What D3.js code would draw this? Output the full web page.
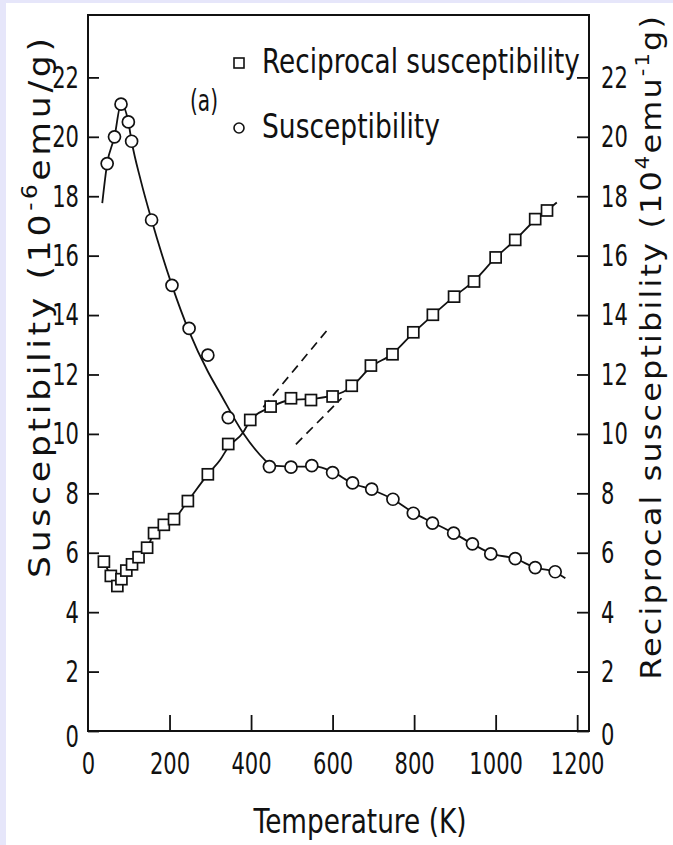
<!DOCTYPE html>
<html>
<head>
<meta charset="utf-8">
<script src="https://cdn.jsdelivr.net/npm/d3@7"></script>
<style>
  html, body { margin: 0; padding: 0; background: #e6e6fa; }
  svg { display: block; }
  text { font-family: "DejaVu Sans", sans-serif; fill: #111; }
</style>
</head>
<body>
<svg id="chart" width="673" height="845"></svg>
<script>
// Susceptibility (10^-6 emu/g), measured points
const tempChi = [47, 65, 81, 99, 107, 156, 206, 248, 294, 344, 445, 498, 549, 600, 649, 696, 748, 798, 845, 897, 943, 988, 1048, 1097, 1146];
const chi     = [19.1, 20.0, 21.1, 20.5, 19.85, 17.2, 15.0, 13.55, 12.65, 10.55, 8.9, 8.88, 8.93, 8.7, 8.35, 8.14, 7.8, 7.33, 7.0, 6.66, 6.3, 5.96, 5.8, 5.5, 5.36];

// Reciprocal susceptibility (10^4 emu^-1 g), measured points
const tempInv = [39, 56, 72, 82, 94, 108, 124, 145, 162, 186, 211, 245, 294, 344, 398, 448, 498, 547, 600, 647, 694, 747, 798, 846, 898, 947, 1000, 1048, 1097, 1126];
const invChi  = [5.7, 5.22, 4.88, 5.11, 5.4, 5.61, 5.85, 6.17, 6.66, 6.94, 7.13, 7.74, 8.64, 9.66, 10.47, 10.92, 11.2, 11.14, 11.26, 11.62, 12.3, 12.68, 13.42, 14.01, 14.62, 15.13, 15.94, 16.53, 17.23, 17.52];

// Smooth guide curves drawn through each series
const chiCurveT = [35, 47, 65, 81, 99, 107, 130, 156, 206, 248, 294, 324, 380, 434, 450, 520, 560, 600, 649, 696, 748, 798, 845, 897, 943, 988, 1048, 1097, 1146, 1171];
const chiCurveV = [17.77, 19.1, 20.0, 21.1, 20.5, 19.85, 18.5, 17.2, 15.0, 13.45, 12.1, 11.37, 10.04, 9.12, 8.93, 8.9, 8.9, 8.72, 8.34, 8.12, 7.8, 7.35, 7.02, 6.66, 6.3, 5.98, 5.8, 5.5, 5.35, 5.14];
const invCurveT = [39, 56, 72, 82, 94, 108, 124, 145, 162, 186, 211, 245, 294, 324, 344, 380, 398, 448, 498, 547, 600, 627, 647, 694, 747, 798, 846, 898, 947, 1000, 1048, 1097, 1126, 1150];
const invCurveV = [5.7, 5.22, 4.88, 5.11, 5.4, 5.61, 5.85, 6.17, 6.66, 6.94, 7.13, 7.74, 8.64, 9.12, 9.55, 10.04, 10.45, 10.9, 11.15, 11.18, 11.3, 11.42, 11.6, 12.25, 12.7, 13.4, 14.0, 14.62, 15.15, 15.93, 16.53, 17.2, 17.52, 17.79];

// Dashed linear extrapolations of the reciprocal curve
const dashUpperT = [430, 586];
const dashUpperV = [10.9, 13.48];
const dashLowerT = [510, 622];
const dashLowerV = [9.65, 11.2];

// Axis ticks
const xTicks = [0, 200, 400, 600, 800, 1000, 1200];
const yTicks = [0, 2, 4, 6, 8, 10, 12, 14, 16, 18, 20, 22];

const W = 673, H = 845;
const svg = d3.select('#chart');
svg.append('rect').attr('x', 6).attr('y', 3).attr('width', W - 6).attr('height', H - 3).attr('fill', '#fff');

const x = d3.scaleLinear().domain([0, 1229]).range([88, 589]);
const y = d3.scaleLinear().domain([0, 24.1]).range([731, 15]);

const INK = '#111';
const TICK_FONT = 31, TICK_K = 0.68;

function condense(sel, k) {
  sel.each(function () {
    const t = d3.select(this);
    const xx = +t.attr('x') || 0;
    t.attr('x', xx / k).attr('transform', `scale(${k},1)`);
  });
}

// Frame
svg.append('rect')
  .attr('x', x(0)).attr('y', y(24.1))
  .attr('width', x(1229) - x(0)).attr('height', y(0) - y(24.1))
  .attr('fill', 'none').attr('stroke', INK).attr('stroke-width', 2);

// Left axis
const gL = svg.append('g').attr('transform', `translate(${x(0)},0)`)
  .call(d3.axisLeft(y).tickValues(yTicks).tickSize(-11).tickSizeOuter(0).tickPadding(9).tickFormat(d3.format('d')));
// Right axis
const gR = svg.append('g').attr('transform', `translate(${x(1229)},0)`)
  .call(d3.axisRight(y).tickValues(yTicks).tickSize(-12).tickSizeOuter(0).tickPadding(12).tickFormat(d3.format('d')));
// Bottom axis
const gB = svg.append('g').attr('transform', `translate(0,${y(0)})`)
  .call(d3.axisBottom(x).tickValues(xTicks).tickSize(-16).tickSizeOuter(0).tickPadding(21).tickFormat(d3.format('d')));

[gL, gR, gB].forEach(g => {
  g.select('.domain').remove();
  g.selectAll('.tick line').attr('stroke', INK).attr('stroke-width', 1.8);
  g.selectAll('.tick text').attr('fill', INK).style('font-size', TICK_FONT + 'px').attr('font-family', null);
  condense(g.selectAll('.tick text'), TICK_K);
});
gB.selectAll('.tick').filter(d => d === 0).select('line').remove();
gL.selectAll('.tick').filter(d => d === 0).select('text').attr('dy', '0.5em');
gR.selectAll('.tick').filter(d => d === 0).select('text').attr('dy', '0.45em');

// Text helper: positioned group, optional rotation; the advance width is fitted
// by a horizontal scale, optionally capped and topped up with letter spacing
function addText(cfg) {
  const g = svg.append('g').attr('transform', `translate(${cfg.x},${cfg.y}) rotate(${cfg.rot || 0})`);
  const t = g.append('text').attr('text-anchor', cfg.anchor || 'start').style('font-size', cfg.size + 'px');
  let shift = 0, chars = 0;
  cfg.parts.forEach(p => {
    const sup = p[1] === 'sup';
    const target = sup ? -cfg.size * 0.42 : 0;
    t.append('tspan')
      .attr('dy', target - shift)
      .style('font-size', (sup ? cfg.size * 0.66 : cfg.size) + 'px')
      .text(p[0]);
    shift = target;
    chars += p[0].length;
  });
  const len = t.node().getComputedTextLength();
  let s = cfg.width / len;
  if (cfg.maxScale && s > cfg.maxScale) {
    s = cfg.maxScale;
    const ls = (cfg.width / s - len) / (chars - 1);
    t.style('letter-spacing', ls + 'px');
    if ((cfg.anchor || 'start') === 'middle') t.attr('x', ls / 2);
  }
  t.attr('transform', `scale(${s},1)`);
  return t;
}

// Curves
const line = d3.line().x(d => x(d[0])).y(d => y(d[1])).curve(d3.curveMonotoneX);
const plain = d3.line().x(d => x(d[0])).y(d => y(d[1]));

svg.append('path').datum(d3.zip(chiCurveT, chiCurveV))
  .attr('d', line).attr('fill', 'none').attr('stroke', INK).attr('stroke-width', 1.8);
svg.append('path').datum(d3.zip(invCurveT, invCurveV))
  .attr('d', line).attr('fill', 'none').attr('stroke', INK).attr('stroke-width', 1.8);
[[dashUpperT, dashUpperV], [dashLowerT, dashLowerV]].forEach(([T, V]) => {
  svg.append('path').datum(d3.zip(T, V))
    .attr('d', plain).attr('fill', 'none').attr('stroke', INK)
    .attr('stroke-width', 1.7).attr('stroke-dasharray', '9,6');
});

// Markers
const SQ = 11;
svg.append('g').selectAll('rect').data(d3.zip(tempInv, invChi)).join('rect')
  .attr('x', d => x(d[0]) - SQ / 2).attr('y', d => y(d[1]) - SQ / 2)
  .attr('width', SQ).attr('height', SQ)
  .attr('fill', '#fff').attr('stroke', INK).attr('stroke-width', 1.7);
svg.append('g').selectAll('circle').data(d3.zip(tempChi, chi)).join('circle')
  .attr('cx', d => x(d[0])).attr('cy', d => y(d[1])).attr('r', 6)
  .attr('fill', '#fff').attr('stroke', INK).attr('stroke-width', 1.7);

// Legend
svg.append('rect').attr('x', 234).attr('y', 58).attr('width', 10).attr('height', 10)
  .attr('fill', '#fff').attr('stroke', INK).attr('stroke-width', 1.6);
addText({ x: 262, y: 73, size: 34, width: 318, parts: [['Reciprocal susceptibility']] });
svg.append('circle').attr('cx', 239).attr('cy', 128).attr('r', 5)
  .attr('fill', '#fff').attr('stroke', INK).attr('stroke-width', 1.6);
addText({ x: 262, y: 138, size: 34, width: 178, parts: [['Susceptibility']] });
addText({ x: 190, y: 111, size: 31, width: 28, parts: [['(a)']] });

// Axis titles
addText({ x: 360, y: 833, size: 34, width: 213, anchor: 'middle', parts: [['Temperature (K)']] });
addText({ x: 50, y: 308, rot: -90, size: 31, width: 540, anchor: 'middle', maxScale: 1.12,
  parts: [['Susceptibility (10'], ['-6', 'sup'], ['emu/g)']] });
addText({ x: 661, y: 348, rot: -90, size: 29, width: 664, anchor: 'middle', maxScale: 1.1,
  parts: [['Reciprocal susceptibility (10'], ['4', 'sup'], ['emu'], ['-1', 'sup'], ['g)']] });
</script>
</body>
</html>
